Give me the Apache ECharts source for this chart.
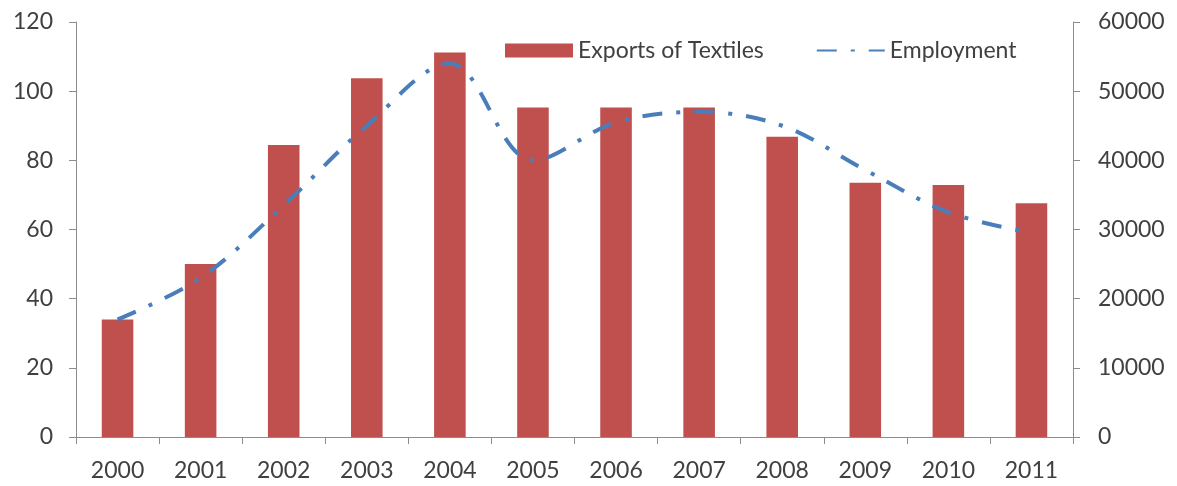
<!DOCTYPE html>
<html>
<head>
<meta charset="utf-8">
<script src="https://cdn.jsdelivr.net/npm/echarts@6/dist/echarts.min.js"></script>
<style>
  html, body { margin: 0; padding: 0; background: #fff; }
  #chart { width: 1177px; height: 486px; }
</style>
</head>
<body>
<div id="chart"></div>
<script>
// Textile exports (left axis) and employment (right axis), 2000–2011
const years = ['2000', '2001', '2002', '2003', '2004', '2005', '2006', '2007', '2008', '2009', '2010', '2011'];
const exportsOfTextiles = [34, 50, 84.4, 103.7, 111.2, 95.3, 95.3, 95.3, 86.8, 73.5, 72.9, 67.6];
const employment = [17000, 23000, 33500, 45000, 54000, 40000, 45500, 47000, 45000, 38600, 32500, 29500];

const axisGray = '#8c8c8c';
const textColor = '#404040';
const fontFamily = 'Lato, "Open Sans", sans-serif';
const fontSize = 23;

const chart = echarts.init(document.getElementById('chart'));
chart.setOption({
  animation: false,
  textStyle: { fontFamily: fontFamily },
  grid: { left: 76, right: 104, top: 22, bottom: 49 },
  legend: {
    left: 500,
    top: 34,
    itemWidth: 68,
    itemHeight: 14,
    itemGap: 52,
    textStyle: { fontSize: fontSize, color: textColor, fontFamily: fontFamily },
    data: [
      { name: 'Exports of Textiles', icon: 'rect' },
      { name: 'Employment', itemStyle: { opacity: 0 } }
    ]
  },
  xAxis: {
    type: 'category',
    data: years,
    boundaryGap: true,
    axisLine: { lineStyle: { color: axisGray, width: 1 } },
    axisTick: { show: true, alignWithLabel: false, length: 7, lineStyle: { color: axisGray } },
    axisLabel: { color: textColor, fontSize: fontSize, margin: 22 }
  },
  yAxis: [
    {
      type: 'value',
      min: 0, max: 120, interval: 20,
      splitLine: { show: false },
      axisLine: { show: true, lineStyle: { color: axisGray } },
      axisTick: { show: true, length: 7, lineStyle: { color: axisGray } },
      axisLabel: { color: textColor, fontSize: fontSize, margin: 23 }
    },
    {
      type: 'value',
      min: 0, max: 60000, interval: 10000,
      position: 'right',
      splitLine: { show: false },
      axisLine: { show: true, lineStyle: { color: axisGray } },
      axisTick: { show: true, length: 7, lineStyle: { color: axisGray } },
      axisLabel: { color: textColor, fontSize: fontSize, margin: 25, formatter: (v) => String(v) }
    }
  ],
  series: [
    {
      name: 'Exports of Textiles',
      type: 'bar',
      data: exportsOfTextiles,
      yAxisIndex: 0,
      barWidth: '38%',
      itemStyle: { color: '#C0504D' }
    },
    {
      name: 'Employment',
      type: 'line',
      data: employment,
      yAxisIndex: 1,
      smooth: 0.35,
      symbol: 'none',
      lineStyle: { color: '#4A7EBB', width: 4, type: [20, 14, 4, 14] },
      itemStyle: { color: '#4A7EBB' }
    }
  ]
});
</script>
</body>
</html>
